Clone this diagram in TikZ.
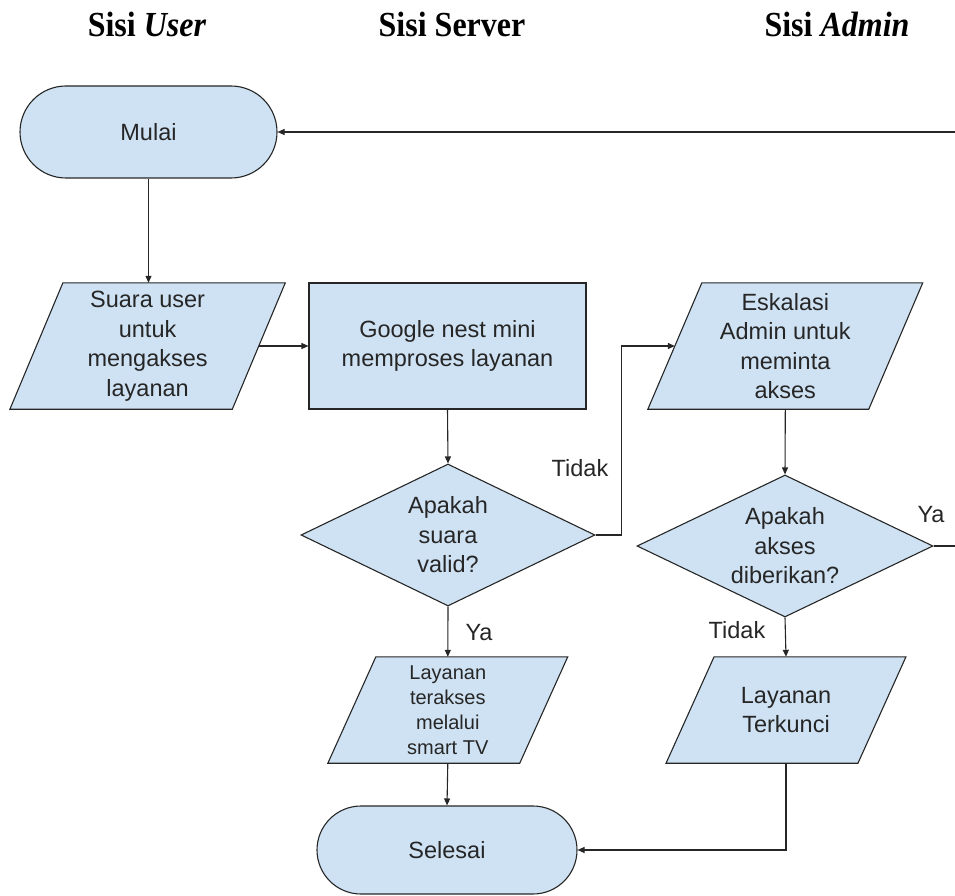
\documentclass[tikz,border=0pt]{standalone}
\usepackage{fontspec}
\usepackage{graphicx}
\setmainfont{Liberation Sans}
\newfontfamily\hdrfont{Liberation Serif}
\usetikzlibrary{arrows.meta,calc,backgrounds,shapes.geometric}

\definecolor{boxfill}{HTML}{CFE2F3}
\definecolor{ink}{HTML}{262626}

\tikzset{
  outline/.style={draw=ink, line width=1.1pt, fill=boxfill, line join=miter},
  body/.style={font=\fontsize{23.5}{29.5}\selectfont, text=ink, align=center, inner sep=0pt},
  small/.style={font=\fontsize{20}{25}\selectfont, text=ink, align=center, inner sep=0pt},
  terminal/.style={outline, body, rounded corners=#1},
  procbox/.style={outline, body, rectangle},
  decision/.style={outline, body, diamond, aspect=2.07},
  iobox/.style={draw=none, rectangle, inner sep=0pt},
  header/.style={font=\hdrfont\bfseries\fontsize{32}{36}\selectfont, anchor=base, inner sep=0pt},
  lbl/.style={body},
  flow/.style={draw=ink, line width=1.1pt, -{Triangle[length=7pt,width=6pt]}},
}

% parallelogram outline around an invisible node: #1 node name, #2 half of the slant
\newcommand\ioshape[2]{%
  \path[outline] ($(#1.south west)+(-#2,0)$) -- ($(#1.south east)+(-#2,0)$)
    -- ($(#1.north east)+(#2,0)$) -- ($(#1.north west)+(#2,0)$) -- cycle;}
% header text, set slightly tall
\newcommand\tallhdr[1]{\scalebox{1}[1.1]{#1}}

\begin{document}
\begin{tikzpicture}[x=1pt, y=-1pt]
\useasboundingbox (0,0) rectangle (955,896);

% column headers
\node[header] (hUser)   at (147,37) {\tallhdr{Sisi \textit{User}}};
\node[header] (hServer) at (452,37) {\tallhdr{Sisi Server}};
\node[header] (hAdmin)  at (837,37) {\tallhdr{Sisi \textit{Admin}}};

% terminals
\node[terminal=46pt, minimum width=257pt, minimum height=92pt] (mulai) at (148.5,132) {Mulai};
\node[terminal=44pt, minimum width=260pt, minimum height=88pt] (selesai) at (447,850) {Selesai};

% process
\node[procbox, minimum width=277pt, minimum height=126pt] (gnm) at (447.5,346)
  {Google nest mini\\memproses layanan};

% input / output boxes
\node[iobox, body, minimum width=222pt, minimum height=126pt] (suara) at (147.6,346)
  {Suara user\\untuk\\mengakses\\layanan};
\node[iobox, body, minimum width=220.5pt, minimum height=126pt] (eskal) at (785.3,346)
  {Eskalasi\\Admin untuk\\meminta\\akses};
\node[iobox, small, minimum width=191.5pt, minimum height=106pt] (akses) at (447.8,710)
  {Layanan\\terakses\\melalui\\smart TV};
\node[iobox, body, minimum width=191.5pt, minimum height=106pt] (kunci) at (786,710)
  {Layanan\\Terkunci};

\begin{scope}[on background layer]
  \ioshape{suara}{26.5pt}
  \ioshape{eskal}{27pt}
  \ioshape{akses}{24pt}
  \ioshape{kunci}{24pt}
\end{scope}

% decisions
\node[decision, minimum width=294pt, minimum height=142pt] (valid) at (448,535)
  {Apakah\\suara\\valid?};
\node[decision, minimum width=296pt, minimum height=142pt] (beri) at (785,546)
  {Apakah\\akses\\diberikan?};

% connectors
\draw[flow] (mulai.south) -- (mulai.south |- suara.north);
\draw[flow] (suara.east) -- (gnm.west);
\draw[flow] (gnm.south) -- (valid.north);
\draw[flow] (valid.east) -- ++(26,0) coordinate (tturn) |- (eskal.west);
\draw[flow] (eskal.south) -- (beri.north);
\coordinate (loop) at (962,0);
\draw[flow] (beri.east) -| (loop |- mulai.east) -- (mulai.east);
\draw[flow] (valid.south) -- (akses.north);
\draw[flow] (beri.south) -- (kunci.north);
\draw[flow] (akses.south) -- (selesai.north);
\draw[flow] (kunci.south) |- (selesai.east);

% branch labels
\node[lbl] (tidak1) at (580,468) {Tidak};
\node[lbl] (ya1)    at (479,633) {Ya};
\node[lbl] (ya2)    at (931,515) {Ya};
\node[lbl] (tidak2) at (737,630) {Tidak};
\end{tikzpicture}
\end{document}
